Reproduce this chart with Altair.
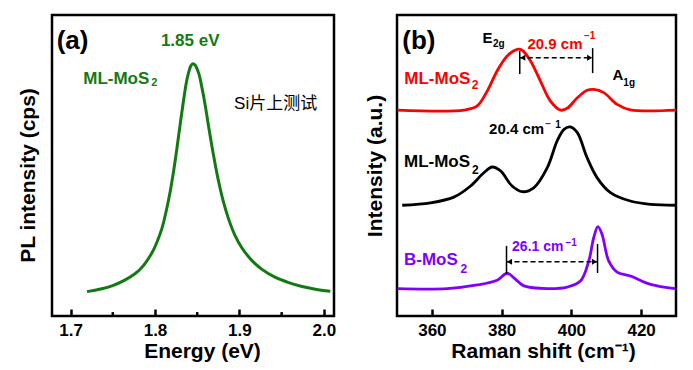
import altair as alt
import pandas as pd

FONT = "Liberation Sans, Arial, 'Noto Sans CJK SC'"
GREEN = "#137a13"
RED = "#ff0000"
PURPLE = "#8000ff"
BLACK = "#000000"

# ---------------- data: (a) PL spectrum ----------------
pl_energy = [1.7195, 1.7491, 1.7767, 1.7870, 1.7964, 1.8024, 1.8083, 1.8130, 1.8181, 1.8225,
             1.8261, 1.8302, 1.8340, 1.8373, 1.8399, 1.8426, 1.8450,
             1.8474, 1.8518, 1.8557, 1.8596, 1.8634, 1.8675, 1.8714, 1.8754, 1.8805, 1.8873,
             1.8947, 1.9030, 1.9149, 1.9267, 1.9421, 1.9583, 1.9741, 1.9899, 2.0076]
pl_intensity = [81, 100, 141, 170, 210, 246, 292, 345, 415, 490,
                560, 645, 720, 778, 810, 832, 838,
                834, 806, 757, 698, 631, 562, 502, 446, 385, 321,
                268, 226, 184, 155, 129, 111, 98, 89, 82]

# ---------------- data: (b) Raman spectra ----------------
raman_red_x = [350.1, 369.2, 373.0, 375.9, 378.7, 381.6, 384.5, 385.9, 388.3, 391.1,
               394.0, 396.9, 398.8, 401.7, 404.5, 406.4, 409.3, 413.1, 416.9, 430.0]
raman_red_y = [684, 684, 698, 748, 814, 864, 886, 883, 847, 781,
               714, 684, 690, 725, 750, 753, 742, 703, 685, 684]

raman_black_x = [351.5, 359.6, 366.3, 371.1, 374.9, 377.3, 379.7, 383.0, 385.9, 389.2,
                 393.1, 395.9, 397.9, 399.6, 401.7, 404.5, 407.4, 411.2, 416.9, 422.7, 429.8]
raman_black_y = [368, 376, 395, 432, 476, 495, 482, 432, 413, 426,
                 493, 581, 620, 628, 609, 526, 459, 410, 382, 371, 368]

raman_purple_x = [350.1, 364.4, 373.0, 378.7, 381.6, 384.0, 386.4, 393.1, 398.8, 402.6,
                  405.0, 406.4, 407.6, 408.8, 410.7, 413.1, 416.9, 422.7, 429.8]
raman_purple_y = [91, 91, 103, 119, 142, 122, 100, 91, 96, 116,
                  183, 260, 297, 271, 183, 146, 133, 105, 91]

pl_ticks_major = [1.7, 1.8, 1.9, 2.0]
pl_ticks_minor = [1.75, 1.85, 1.95]
raman_ticks_major = [360, 380, 400, 420]

# peak-separation markers: (x_left, x_right, y_arrow, y_lo_left, y_hi_left, y_lo_right, y_hi_right)
red_sep = [385.2, 406.1, 858, 804, 880, 807, 890]
purple_sep = [381.4, 407.5, 180, 140, 233, 143, 239]

# annotations: (x, y, text, size, color, weight, align)
ann_a = [
    (1.6835, 914, "(a)", 26, BLACK, "bold", "left"),
    (1.8417, 914, "1.85 eV", 17, GREEN, "bold", "center"),
    (1.7150, 787, "ML-MoS", 17, GREEN, "bold", "left"),
    (1.7955, 774, "2", 11, GREEN, "bold", "left"),
    (1.8937, 704, "Si片上测试", 17, BLACK, "normal", "left"),
]
ann_b = [
    (351.5, 914, "(b)", 26, BLACK, "bold", "left"),
    (374.5, 924, "E", 15, BLACK, "bold", "left"),
    (377.5, 904, "2g", 10, BLACK, "bold", "left"),
    (387.4, 904, "20.9 cm", 15, RED, "bold", "left"),
    (403.6, 930, "−1", 10, RED, "bold", "left"),
    (411.8, 801, "A", 15, BLACK, "bold", "left"),
    (414.9, 775, "1g", 10, BLACK, "bold", "left"),
    (352.1, 787, "ML-MoS", 17, RED, "bold", "left"),
    (371.4, 767, "2", 12, RED, "bold", "left"),
    (376.4, 621, "20.4 cm", 15, BLACK, "bold", "left"),
    (392.5, 637, "−", 10, PURPLE, "bold", "left"),
    (395.4, 635, "1", 10, BLACK, "bold", "left"),
    (352.0, 512, "ML-MoS", 17, BLACK, "bold", "left"),
    (371.5, 484, "2", 12, BLACK, "bold", "left"),
    (352.0, 186, "B-MoS", 17, PURPLE, "bold", "left"),
    (368.2, 155, "2", 12, PURPLE, "bold", "left"),
    (383.0, 229, "26.1 cm", 14, PURPLE, "bold", "left"),
    (398.3, 244, "−1", 10, PURPLE, "bold", "left"),
]

W_A, W_B, H = 282, 279, 301
TICK = 7  # inward major tick length in px (axis is shifted up by this amount)


def text_layers(items):
    out = []
    for x, y, s, size, color, weight, align in items:
        df = pd.DataFrame({"x": [x], "y": [y], "t": [s]})
        out.append(
            alt.Chart(df).mark_text(align=align, baseline="middle", font=FONT,
                                    fontSize=size, fontWeight=weight, color=color)
            .encode(x="x:Q", y="y:Q", text="t:N")
        )
    return out


def tick_layer(values, length):
    df = pd.DataFrame({"x": values, "tb": [0.0] * len(values), "tt": [float(length)] * len(values)})
    return alt.Chart(df).mark_rule(color="black", strokeWidth=2.5).encode(
        x="x:Q", y="tb:Q", y2="tt:Q")


def sep_layers(spec):
    xl, xr, ya, yl0, yl1, yr0, yr1 = spec
    vdf = pd.DataFrame({"x": [xl, xr], "y": [yl0, yr0], "y2": [yl1, yr1]})
    verts = alt.Chart(vdf).mark_rule(color="black", strokeWidth=1.5).encode(
        x="x:Q", y="y:Q", y2="y2:Q")
    hdf = pd.DataFrame({"x": [xl], "x2": [xr], "y": [ya]})
    horiz = alt.Chart(hdf).mark_rule(color="black", strokeWidth=1.5, strokeDash=[5, 3]).encode(
        x="x:Q", x2="x2:Q", y="y:Q")
    ldf = pd.DataFrame({"x": [xl], "y": [ya]})
    rdf = pd.DataFrame({"x": [xr], "y": [ya]})
    la = alt.Chart(ldf).mark_point(shape="triangle-left", filled=True, size=35,
                                   color="black", opacity=1, xOffset=3).encode(x="x:Q", y="y:Q")
    ra = alt.Chart(rdf).mark_point(shape="triangle-right", filled=True, size=35,
                                   color="black", opacity=1, xOffset=-3).encode(x="x:Q", y="y:Q")
    return [verts, horiz, la, ra]


def x_axis(values, title, title_x, fmt=None):
    kw = dict(values=values, title=title, ticks=True, tickSize=TICK, tickWidth=2.5,
              tickColor="black", offset=-TICK, labelPadding=6, titlePadding=2, titleX=title_x)
    if fmt:
        kw["format"] = fmt
    return alt.Axis(**kw)


# ---------------- panel (a) ----------------
pl_df = pd.DataFrame({"x": pl_energy, "y": pl_intensity})
line_a = alt.Chart(pl_df).mark_line(color=GREEN, strokeWidth=3, interpolate="catmull-rom").encode(
    x=alt.X("x:Q", scale=alt.Scale(domain=[1.678, 2.012], nice=False, zero=False),
            axis=x_axis(pl_ticks_major, "Energy (eV)", 150, ".1f")),
    y=alt.Y("y:Q", scale=alt.Scale(domain=[0, 1000], nice=False),
            axis=alt.Axis(labels=False, title="PL intensity (cps)", titlePadding=14, titleY=160)),
)
panel_a = alt.layer(
    line_a,
    tick_layer(pl_ticks_minor, 13),
    *text_layers(ann_a),
).properties(width=W_A, height=H)

# ---------------- panel (b) ----------------
red_df = pd.DataFrame({"x": raman_red_x, "y": raman_red_y})
black_df = pd.DataFrame({"x": raman_black_x, "y": raman_black_y})
purple_df = pd.DataFrame({"x": raman_purple_x, "y": raman_purple_y})

xb = alt.X("x:Q", scale=alt.Scale(domain=[350, 430], nice=False, zero=False),
           axis=x_axis(raman_ticks_major, "Raman shift  (cm⁻¹)", 146))
yb = alt.Y("y:Q", scale=alt.Scale(domain=[0, 1000], nice=False),
           axis=alt.Axis(labels=False, title="Intensity (a.u.)", titlePadding=12))

line_red = alt.Chart(red_df).mark_line(color=RED, strokeWidth=2.8, interpolate="catmull-rom").encode(x=xb, y=yb)
line_black = alt.Chart(black_df).mark_line(color=BLACK, strokeWidth=2.8, interpolate="catmull-rom").encode(x="x:Q", y="y:Q")
line_purple = alt.Chart(purple_df).mark_line(color=PURPLE, strokeWidth=2.8, interpolate="catmull-rom").encode(x="x:Q", y="y:Q")

panel_b = alt.layer(
    line_red, line_black, line_purple,
    *sep_layers(red_sep),
    *sep_layers(purple_sep),
    *text_layers(ann_b),
).properties(width=W_B, height=H)

chart = alt.hconcat(panel_a, panel_b, spacing=24).properties(
    padding={"left": 7, "top": 5, "right": 0, "bottom": 0}
).configure_view(stroke="black", strokeWidth=2.5).configure_axis(
    labelFont=FONT, labelFontWeight="bold", labelFontSize=17, labelColor="black",
    titleFont=FONT, titleFontWeight="bold", titleFontSize=21, titleColor="black",
    grid=False, ticks=False, domain=False,
)

chart.save("out.html", embed_options={"renderer": "svg", "actions": False})
